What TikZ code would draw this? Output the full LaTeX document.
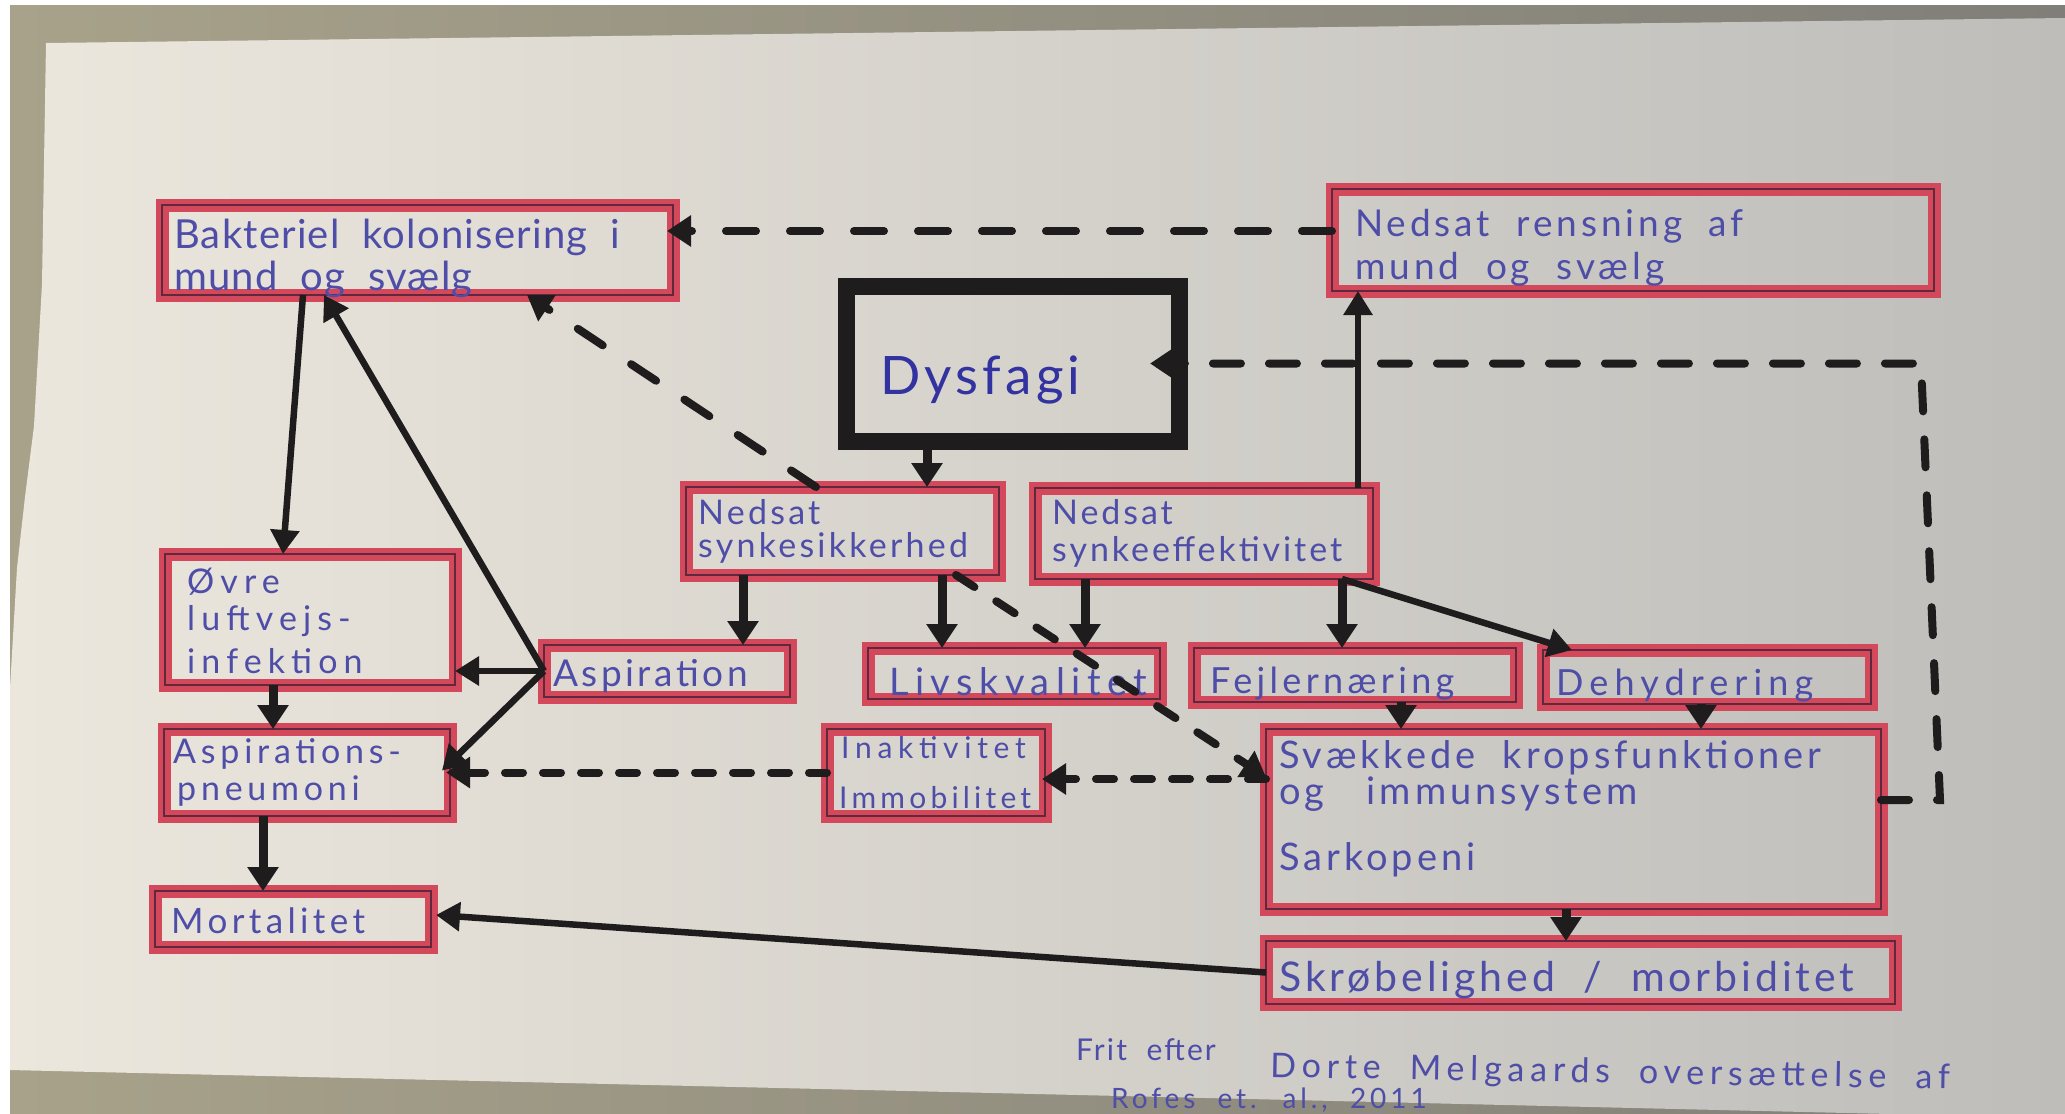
\documentclass[tikz,border=0pt]{standalone}
\usepackage{fontspec}
\usetikzlibrary{arrows.meta,calc}
\newfontfamily\hand{Lato}[WordSpace=2]
\newcommand\hw[2]{\hand\fontsize{#1}{#1}\selectfont\addfontfeatures{LetterSpace=#2}}
\definecolor{markred}{RGB}{212,72,92}
\definecolor{boxdark}{RGB}{95,40,60}
\definecolor{ink}{RGB}{78,78,168}
\definecolor{inkD}{RGB}{50,50,160}
\definecolor{arrowk}{RGB}{30,28,28}
\definecolor{bgL}{RGB}{168,162,138}
\definecolor{bgR}{RGB}{128,126,120}
\definecolor{paperL}{RGB}{236,231,221}
\definecolor{paperM}{RGB}{216,213,207}
\definecolor{paperR}{RGB}{190,189,186}
\tikzset{
  redbox/.style={draw=boxdark, line width=2.5pt, preaction={draw=markred, line width=13pt},
    rectangle, anchor=north west, inner sep=0pt, outer sep=0pt},
  blackbox/.style={draw=arrowk, line width=17pt, rectangle, anchor=north west, inner sep=0pt, outer sep=0pt},
  txt/.style={anchor=base west, inner sep=0pt, text=ink},
  thick arrow/.style={draw=arrowk, line width=9pt, -{Triangle[length=24pt,width=30pt]}},
  thin arrow/.style={draw=arrowk, line width=6.5pt, -{Triangle[length=24pt,width=28pt]}},
  dsh/.style={draw=arrowk, line width=8pt, line cap=round, dash pattern=on 30pt off 34pt,
    -{Triangle[length=24pt,width=30pt]}},
  dshs/.style={draw=arrowk, line width=8pt, line cap=round, dash pattern=on 18pt off 20pt,
    -{Triangle[length=24pt,width=30pt]}},
}
\begin{document}
\begin{tikzpicture}[x=1pt,y=-1pt]
\useasboundingbox (0,0) rectangle (2065,1114);
% background
\fill[white] (0,0) rectangle (2065,1114);
\shade[left color=bgL, right color=bgR] (10,5) rectangle (2065,1114);
\shade[left color=paperL, middle color=paperM, right color=paperR]
  (46,43) -- (2065,18) -- (2065,1114) -- (1890,1114) -- (10,1070) -- (10,688)
  -- (17,568) -- (25,497) -- (34,426) -- (42,284) -- cycle;

% boxes
\node[redbox, minimum width=511pt, minimum height=90pt]  (bBak) at (162,205) {};
\node[redbox, minimum width=602pt, minimum height=102pt] (bRen) at (1332,189) {};
\node[blackbox, minimum width=333pt, minimum height=155pt] (dys) at (846,286) {};
\node[redbox, minimum width=313pt, minimum height=88pt]  (bSik) at (686,487) {};
\node[redbox, minimum width=338pt, minimum height=91pt]  (bEff) at (1035,488) {};
\node[redbox, minimum width=290pt, minimum height=131pt] (bOvr) at (165,554) {};
\node[redbox, minimum width=246pt, minimum height=52pt]  (bAsp) at (544,645) {};
\node[redbox, minimum width=292pt, minimum height=51pt]  (bLiv) at (868,648) {};
\node[redbox, minimum width=322pt, minimum height=54pt]  (bFej) at (1194,648) {};
\node[redbox, minimum width=328pt, minimum height=54pt]  (bDeh) at (1543,650) {};
\node[redbox, minimum width=286pt, minimum height=87pt]  (bPne) at (164,729) {};
\node[redbox, minimum width=218pt, minimum height=87pt]  (bIna) at (827,729) {};
\node[redbox, minimum width=615pt, minimum height=180pt] (bSvk) at (1266,729) {};
\node[redbox, minimum width=276pt, minimum height=56pt]  (bMor) at (155,891) {};
\node[redbox, minimum width=629pt, minimum height=63pt]  (bSkr) at (1266,941) {};

% texts
\node[txt, font={\hw{40}{3}}] (tBak1) at (174,248) {Bakteriel kolonisering i};
\node[txt, font={\hw{40}{3}}] (tBak2) at (174,290) {mund og svælg};
\node[txt, font={\hw{37}{10.5}}] (tRen1) at (1355,236) {Nedsat rensning af};
\node[txt, font={\hw{37}{10.5}}] (tRen2) at (1355,279) {mund og svælg};
\node[txt, text=inkD, font={\hw{53}{8}}] (tDys) at (880,394) {Dysfagi};
\node[txt, font={\hw{34}{9.5}}] (tSik1) at (698,524) {Nedsat};
\node[txt, font={\hw{34}{9.5}}] (tSik2) at (698,557) {synkesikkerhed};
\node[txt, font={\hw{34}{8.6}}] (tEff1) at (1052,524) {Nedsat};
\node[txt, font={\hw{34}{8.6}}] (tEff2) at (1052,561) {synkeeffektivitet};
\node[txt, font={\hw{34}{18}}] (tOvr1) at (187,593) {Øvre};
\node[txt, font={\hw{34}{18}}] (tOvr2) at (187,630) {luftvejs-};
\node[txt, font={\hw{34}{18}}] (tOvr3) at (187,673) {infektion};
\node[txt, font={\hw{37}{9.5}}] (tAsp) at (553,686) {Aspiration};
\node[txt, font={\hw{38}{17}}] (tLiv) at (889,695) {Livskvalitet};
\node[txt, font={\hw{36}{12}}] (tFej) at (1210,693) {Fejlernæring};
\node[txt, font={\hw{36}{17}}] (tDeh) at (1556,695) {Dehydrering};
\node[txt, font={\hw{34}{14}}] (tPne1) at (173,763) {Aspirations-};
\node[txt, font={\hw{34}{14}}] (tPne2) at (177,800) {pneumoni};
\node[txt, font={\hw{30}{19}}] (tIna1) at (841,758) {Inaktivitet};
\node[txt, font={\hw{30}{14}}] (tIna2) at (839,808) {Immobilitet};
\node[txt, font={\hw{38}{10.5}}] (tSvk1) at (1279,768) {Svækkede kropsfunktioner};
\node[txt, font={\hw{38}{10.5}}] (tSvk2) at (1279,804) {og\hspace{15pt} immunsystem};
\node[txt, font={\hw{38}{10.5}}] (tSvk3) at (1279,870) {Sarkopeni};
\node[txt, font={\hw{35}{12.5}}] (tMor) at (171,933) {Mortalitet};
\node[txt, font={\hw{41}{9.5}}] (tSkr) at (1279,991) {Skrøbelighed / morbiditet};
\node[txt, font={\hw{30}{7}}] (tFn1) at (1076,1060) {Frit efter};
\node[txt, font={\hw{34}{17}}, rotate=-1] (tFn2) at (1270,1077) {Dorte Melgaards oversættelse af};
\node[txt, font={\hw{28}{14}}] (tFn3) at (1111,1108) {Rofes et. al., 2011};

% solid connectors
\draw[thin arrow] ($(bBak.south west)+(141,0)$) -- ($(bOvr.north west)+(118,0)$);
\draw[thin arrow] (bAsp.west) -- ($(bBak.south west)+(162,0)$);
\draw[thin arrow] (bAsp.west) -- (bOvr.east |- bAsp.west);
\draw[thin arrow] (bAsp.west) -- ($(bPne.east)+(-8,-2)$);
\draw[thick arrow] ($(bOvr.south west)+(108,0)$) -- ($(bPne.north west)+(109,0)$);
\draw[thick arrow] ($(bPne.south west)+(99,0)$) -- ($(bMor.north west)+(108,0)$);
\draw[thin arrow] (bSkr.west) -- ($(bMor.east)+(5,-4)$);
\draw[thick arrow] ($(dys.south west)+(81,0)$) -- ($(bSik.north west)+(241,0)$);
\draw[thick arrow] ($(bSik.south west)+(57,0)$) -- ($(bAsp.north west)+(199,0)$);
\draw[thick arrow] ($(bSik.south west)+(256,0)$) -- ($(bLiv.north west)+(74,0)$);
\draw[thick arrow] ($(bEff.south west)+(50,0)$) -- ($(bLiv.north west)+(217,0)$);
\draw[thick arrow] ($(bEff.south west)+(307,0)$) -- ($(bFej.north west)+(148,0)$);
\draw[thin arrow] ($(bEff.south west)+(307,0)$) -- ($(bDeh.north west)+(29,0)$);
\draw[thin arrow] ($(bEff.north west)+(323,0)$) -- ($(bRen.south west)+(26,0)$);
\draw[thick arrow] ($(bFej.south west)+(207,0)$) -- ($(bSvk.north west)+(135,0)$);
\draw[thick arrow] ($(bDeh.south west)+(158,0)$) -- ($(bSvk.north west)+(435,0)$);
\draw[thick arrow] ($(bSvk.south west)+(300,0)$) -- ($(bSkr.north west)+(300,0)$);

% dashed connectors
\draw[dsh] ($(bRen.west)+(0,-9)$) -- ($(bBak.east)+(-6,-19)$);
\draw[dsh] ($(bSik.north west)+(130,0)$) -- ($(bBak.south west)+(365,0)$);
\draw[dshs] (bIna.west) -- ($(bPne.east)+(-4,0)$);
\draw[dshs] ($(bSvk.west)+(0,-40)$) -- ($(bIna.east)+(-3,6.5)$);
\draw[dsh, dash pattern=on 22pt off 26pt] ($(bSik.south east)+(-43,0)$) -- ($(bSvk.west)+(0,-42)$);
\coordinate (c1) at (1940,800);
\coordinate (c2) at (1921,363.5);
\draw[dsh, dash pattern=on 28pt off 28pt] ($(bSvk.east)+(0,-19)$) -- (c1) -- (c2) -- ($(dys.east)+(-29,0)$);
\end{tikzpicture}
\end{document}
